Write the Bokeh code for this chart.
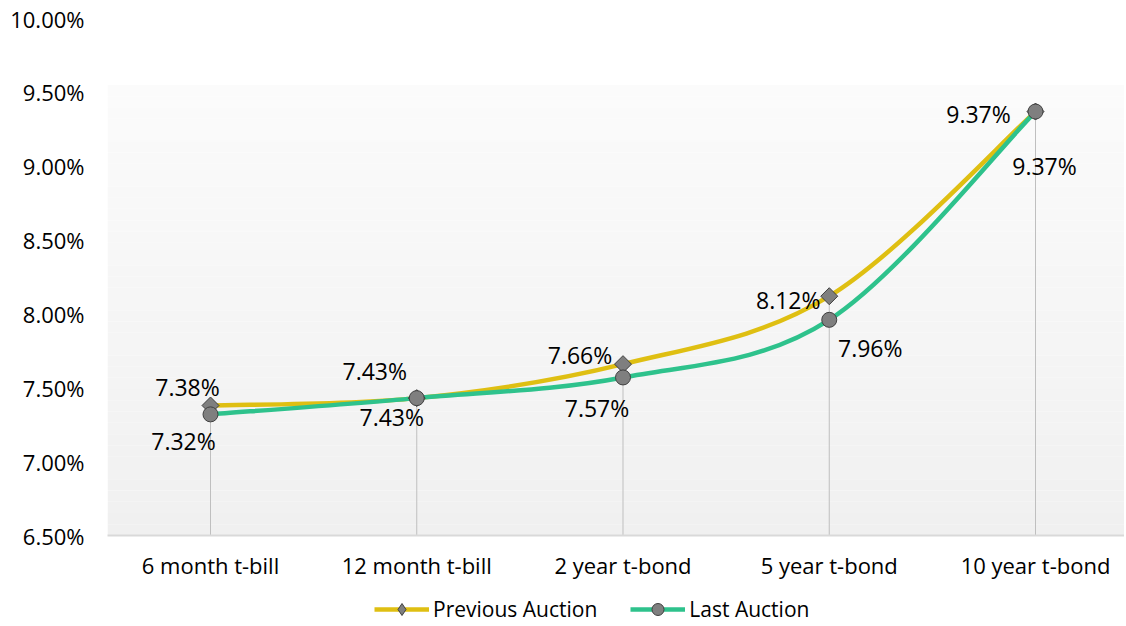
import numpy as np
from bokeh.plotting import figure
from bokeh.layouts import column
from bokeh.models import (Range1d, FixedTicker, ColumnDataSource, Legend, LegendItem,
                          BoxAnnotation, PrintfTickFormatter)
from bokeh.core.properties import value
from bokeh.embed import file_html
from bokeh.resources import INLINE

# ---------------- data ----------------
categories = ["6 month t-bill", "12 month t-bill", "2 year t-bond", "5 year t-bond", "10 year t-bond"]
previous_auction = [7.38, 7.43, 7.66, 8.12, 9.37]
last_auction = [7.32, 7.43, 7.57, 7.96, 9.37]
y_ticks = [6.5, 7.0, 7.5, 8.0, 8.5, 9.0, 9.5, 10.0]
y_min, y_max = 6.5, 10.0

# ---------------- style ----------------
FONT = "Open Sans"
YELLOW = "#DFBF12"
GREEN = "#2EC28C"
MARKER_FILL = "#7F7F7F"
MARKER_LINE = "#404040"
prev_label_dx = [-23, -42, -43, -41, -57]
prev_label_dy = [-19, -27, -9, 4, 2]
last_label_dx = [-27, -25, -26, 41, 9]
last_label_dy = [27, 19, 31, 28, 54]
W = 1124

xs = list(range(len(categories)))


def smooth_segments(xv, yv):
    """Bezier control points (Catmull-Rom style) as used for smoothed lines."""
    n = len(xv)
    pts = list(zip(xv, yv))
    out = dict(x0=[], y0=[], x1=[], y1=[], cx0=[], cy0=[], cx1=[], cy1=[])
    for i in range(n - 1):
        p0 = pts[i - 1] if i > 0 else pts[i]
        p1 = pts[i]
        p2 = pts[i + 1]
        p3 = pts[i + 2] if i + 2 < n else pts[i + 1]
        out["x0"].append(p1[0]); out["y0"].append(p1[1])
        out["x1"].append(p2[0]); out["y1"].append(p2[1])
        out["cx0"].append(p1[0] + (p2[0] - p0[0]) / 6)
        out["cy0"].append(p1[1] + (p2[1] - p0[1]) / 6)
        out["cx1"].append(p2[0] - (p3[0] - p1[0]) / 6)
        out["cy1"].append(p2[1] - (p3[1] - p1[1]) / 6)
    return ColumnDataSource(out)


p = figure(width=W, height=586,
           x_range=Range1d(-0.4994, 4.4315), y_range=Range1d(y_min, y_max),
           output_backend="svg", toolbar_location=None,
           min_border_left=107, min_border_right=0, min_border_top=18, min_border_bottom=51)
p.outline_line_color = None
p.background_fill_color = "white"
p.border_fill_color = "white"
p.grid.visible = False

# gradient background (white at top -> light gray at bottom)
g_top, g_bot = 9.55, y_min
nb = 40
edges = np.linspace(g_top, g_bot, nb + 1)
c_top, c_bot = 251, 240
for i in range(nb):
    c = int(round(c_top + (c_bot - c_top) * (i + 0.5) / nb))
    p.add_layout(BoxAnnotation(top=edges[i], bottom=edges[i + 1],
                               fill_color=f"#{c:02x}{c:02x}{c:02x}", fill_alpha=1.0,
                               line_alpha=0, level="underlay"))

# drop lines
drop_top = [max(a, b) for a, b in zip(previous_auction, last_auction)]
p.segment(x0=xs, y0=[y_min] * len(xs), x1=xs, y1=drop_top, line_color="#BFBFBF", line_width=1)

# smoothed lines
p.bezier(source=smooth_segments(xs, previous_auction), x0="x0", y0="y0", x1="x1", y1="y1",
         cx0="cx0", cy0="cy0", cx1="cx1", cy1="cy1", line_color=YELLOW, line_width=4.5)
p.bezier(source=smooth_segments(xs, last_auction), x0="x0", y0="y0", x1="x1", y1="y1",
         cx0="cx0", cy0="cy0", cx1="cx1", cy1="cy1", line_color=GREEN, line_width=4.5)

# markers
prev_src = ColumnDataSource(dict(x=xs, y=previous_auction,
                                 lbl=[f"{v:.2f}%" for v in previous_auction],
                                 dx=prev_label_dx, dy=prev_label_dy))
last_src = ColumnDataSource(dict(x=xs, y=last_auction,
                                 lbl=[f"{v:.2f}%" for v in last_auction],
                                 dx=last_label_dx, dy=last_label_dy))
p.scatter("x", "y", source=prev_src, marker="square", angle=np.pi / 4, size=12,
          fill_color=MARKER_FILL, line_color=MARKER_LINE, line_width=1)
p.scatter("x", "y", source=last_src, marker="circle", size=15,
          fill_color=MARKER_FILL, line_color=MARKER_LINE, line_width=1)

# data labels
for src in (prev_src, last_src):
    p.text("x", "y", text="lbl", source=src, x_offset="dx", y_offset="dy",
           text_align="center", text_baseline="middle",
           text_font=value(FONT), text_font_size="23px", text_color="#000000")

# axes
p.xaxis.ticker = FixedTicker(ticks=xs)
p.xaxis.major_label_overrides = {i: c for i, c in zip(xs, categories)}
p.xaxis.axis_line_color = "#D9D9D9"
p.xaxis.axis_line_width = 2
p.xaxis.major_tick_line_color = None
p.xaxis.minor_tick_line_color = None
p.xaxis.major_tick_out = 0
p.xaxis.major_tick_in = 0
p.xaxis.minor_tick_out = 0
p.xaxis.axis_label_standoff = 0
p.xaxis.major_label_standoff = 14
p.xaxis.major_label_text_font = FONT
p.xaxis.major_label_text_font_size = "22px"
p.xaxis.major_label_text_color = "#000000"

p.yaxis.ticker = FixedTicker(ticks=y_ticks)
p.yaxis.formatter = PrintfTickFormatter(format="%.2f%%")
p.yaxis.axis_line_color = None
p.yaxis.major_tick_line_color = None
p.yaxis.minor_tick_line_color = None
p.yaxis.major_tick_out = 0
p.yaxis.major_tick_in = 0
p.yaxis.minor_tick_out = 0
p.yaxis.axis_label_standoff = 0
p.yaxis.major_label_standoff = 23
p.yaxis.major_label_text_font = FONT
p.yaxis.major_label_text_font_size = "22px"
p.yaxis.major_label_text_color = "#000000"

# legend strip below the chart (swatch renderers sit outside its visible range)
lf = figure(width=W, height=38, x_range=Range1d(0, 1), y_range=Range1d(0, 1),
            output_backend="svg", toolbar_location=None,
            x_axis_location=None, y_axis_location=None,
            min_border_left=0, min_border_right=0, min_border_top=0, min_border_bottom=0)
lf.outline_line_color = None
lf.grid.visible = False
sw_prev_l = lf.line(xs, previous_auction, line_color=YELLOW, line_width=4.5)
sw_prev_m = lf.scatter(xs, previous_auction, marker="diamond", size=15,
                       fill_color=MARKER_FILL, line_color=MARKER_LINE, line_width=1)
sw_last_l = lf.line(xs, last_auction, line_color=GREEN, line_width=4.5)
sw_last_m = lf.scatter(xs, last_auction, marker="circle", size=15,
                       fill_color=MARKER_FILL, line_color=MARKER_LINE, line_width=1)
legend = Legend(items=[LegendItem(label="Previous Auction", renderers=[sw_prev_l, sw_prev_m]),
                       LegendItem(label="Last Auction", renderers=[sw_last_l, sw_last_m])],
                location=(267, 0), orientation="horizontal",
                glyph_width=55, glyph_height=30, label_standoff=4, spacing=33,
                padding=0, margin=0, border_line_color=None, background_fill_alpha=0,
                label_text_font=FONT, label_text_font_size="21px", label_text_color="#000000")
lf.add_layout(legend, "center")

layout = column(p, lf, spacing=0)
open("out.html", "w").write(file_html(layout, INLINE))
